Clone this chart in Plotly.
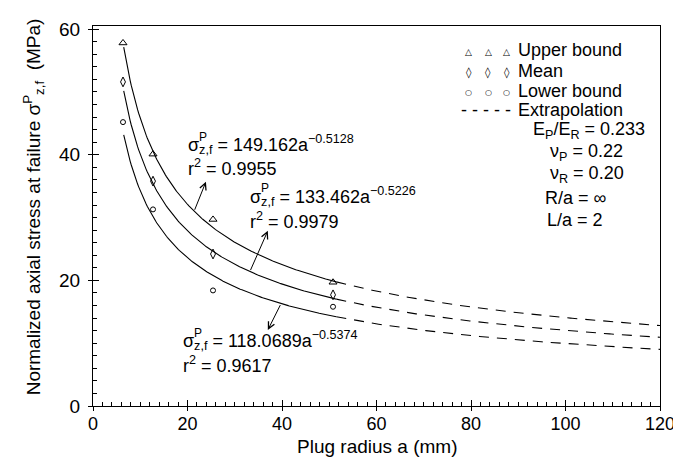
import numpy as np
import plotly.graph_objects as go

# ---- data ----
radius = [6.35, 12.7, 25.4, 50.8]                 # plug radius a (mm)
upper_vals = [57.8, 40.1, 29.7, 19.7]            # upper bound (MPa)
mean_vals = [51.6, 35.8, 24.2, 17.7]             # mean (MPa)
lower_vals = [45.2, 31.3, 18.4, 15.8]            # lower bound (MPa)

fit_names = ["Upper bound", "Mean", "Lower bound"]
fit_coef = ["149.162", "133.462", "118.0689"]
fit_expo = ["-0.5128", "-0.5226", "-0.5374"]
fit_r2 = ["0.9955", "0.9979", "0.9617"]

x_ticks = [0, 20, 40, 60, 80, 100, 120]
y_ticks = [0, 20, 40, 60]

FONT = "Liberation Sans, Arial, Helvetica, sans-serif"
BLACK = "black"


def fit(i, a):
    return float(fit_coef[i]) * np.power(a, float(fit_expo[i]))


fig = go.Figure()

# fitted curves (solid over the tested range, dashed extrapolation)
a_solid = np.linspace(6.5, 51.5, 200)
a_dash = np.linspace(51.5, 120, 200)
for i in range(3):
    fig.add_trace(go.Scatter(x=a_solid, y=fit(i, a_solid), mode="lines",
                             line=dict(color=BLACK, width=1.1), showlegend=False,
                             hoverinfo="skip"))
    fig.add_trace(go.Scatter(x=a_dash, y=fit(i, a_dash), mode="lines",
                             line=dict(color=BLACK, width=1.1, dash="10px,8px"),
                             showlegend=False, hoverinfo="skip"))

# measured points
fig.add_trace(go.Scatter(x=radius, y=upper_vals, mode="markers", name="Upper bound",
                         marker=dict(symbol="triangle-up-open", size=7, color=BLACK,
                                     line=dict(width=1)), showlegend=False))
fig.add_trace(go.Scatter(x=radius, y=mean_vals, mode="markers", name="Mean",
                         marker=dict(symbol="diamond-tall-open", size=7, color=BLACK,
                                     line=dict(width=1)), showlegend=False))
fig.add_trace(go.Scatter(x=radius, y=lower_vals, mode="markers", name="Lower bound",
                         marker=dict(symbol="circle-open", size=5, color=BLACK,
                                     line=dict(width=1)), showlegend=False))

# helper trace for the outer half of the major ticks
fig.add_trace(go.Scatter(x=[None], y=[None], xaxis="x2", yaxis="y2",
                         showlegend=False, hoverinfo="skip"))

XR = [0, 120]
YR = [0, 60.5]

fig.update_layout(
    width=681, height=459,
    margin=dict(l=85, r=29, t=18, b=61),
    paper_bgcolor="white", plot_bgcolor="white",
    font=dict(family=FONT, color=BLACK, size=18),
    showlegend=False,
    xaxis=dict(range=XR, tickvals=x_ticks, ticks="inside", ticklen=6, tickwidth=1,
               tickcolor=BLACK, showline=True, linecolor=BLACK, linewidth=1.2,
               mirror=True, showgrid=False, zeroline=False,
               tickfont=dict(size=18), ticklabelstandoff=1,
               minor=dict(dtick=2, ticks="inside", ticklen=4, tickcolor=BLACK,
                          tickwidth=1, showgrid=False)),
    yaxis=dict(range=YR, tickvals=y_ticks, ticks="inside", ticklen=6, tickwidth=1,
               tickcolor=BLACK, showline=True, linecolor=BLACK, linewidth=1.2,
               mirror=True, showgrid=False, zeroline=False,
               tickfont=dict(size=19), ticklabelstandoff=8,
               minor=dict(dtick=2, ticks="inside", ticklen=4, tickcolor=BLACK,
                          tickwidth=1, showgrid=False)),
    xaxis2=dict(range=XR, overlaying="x", anchor="y2", side="bottom",
                tickvals=x_ticks, ticks="outside", ticklen=4, tickcolor=BLACK,
                showticklabels=False, showline=False, showgrid=False, zeroline=False),
    yaxis2=dict(range=YR, overlaying="y", anchor="x2", side="left",
                tickvals=y_ticks, ticks="outside", ticklen=4, tickcolor=BLACK,
                showticklabels=False, showline=False, showgrid=False, zeroline=False),
)

# axis titles
fig.add_annotation(x=0.501, y=-0.107, xref="paper", yref="paper", xanchor="center",
                   yanchor="middle", showarrow=False, text="Plug radius a (mm)",
                   font=dict(size=19))
fig.add_annotation(x=-0.105, y=0.524, xref="paper", yref="paper", xanchor="center",
                   yanchor="middle", showarrow=False, textangle=-90,
                   text="Normalized axial stress at failure σ<sup>P</sup><sub>z,f</sub>  (MPa)",
                   font=dict(size=19))

# equation labels (P superscript stacked over the z,f subscript)
eq_pos = [(19.7, 41.6, 37.9), (32.8, 33.4, 29.6), (18.6, 10.4, 6.6)]
for i, (ex, ey1, ey2) in enumerate(eq_pos):
    fig.add_annotation(x=ex, y=ey1, xref="x", yref="y", xanchor="left", yanchor="middle",
                       showarrow=False, font=dict(size=18),
                       text=f"σ<sub>z,f</sub> = {fit_coef[i]}a<sup>{fit_expo[i].replace('-', '−')}</sup>")
    fig.add_annotation(x=ex, y=ey1, xref="x", yref="y", xanchor="left", yanchor="middle",
                       showarrow=False, font=dict(size=12), text="P",
                       xshift=11, yshift=8)
    fig.add_annotation(x=ex, y=ey2, xref="x", yref="y", xanchor="left", yanchor="middle",
                       showarrow=False, font=dict(size=18),
                       text=f"r<sup>2</sup> = {fit_r2[i]}")

# arrows from curves to labels
arrows = [(21.4, 23.9, 35.7), (33.2, 37.0, 27.9), (39.8, 37.0, 12.1)]
for i, (tx, hx, hy) in enumerate(arrows):
    fig.add_annotation(x=hx, y=hy, ax=tx, ay=float(fit(i, tx)), xref="x", yref="y",
                       axref="x", ayref="y", showarrow=True, arrowhead=5, arrowsize=1.3,
                       arrowwidth=1, arrowcolor=BLACK, text="")

# legend (drawn as text, with three symbols per entry)
leg_txt_x = 0.746
sym_x = [0.663, 0.697, 0.730]
leg_rows = [("△", "Upper bound", 9), ("◊", "Mean", 11), ("○", "Lower bound", 8)]
leg_y = [0.937, 0.882, 0.829, 0.779]
for (sym, lab, ss), yy in zip(leg_rows, leg_y):
    for sx in sym_x:
        fig.add_annotation(x=sx, y=yy, xref="paper", yref="paper", xanchor="center",
                           yanchor="middle", showarrow=False, yshift=-2,
                           text=sym, font=dict(size=ss, family="DejaVu Sans"))
    fig.add_annotation(x=leg_txt_x, y=yy, xref="paper", yref="paper",
                       xanchor="left", yanchor="middle", showarrow=False,
                       text=lab, font=dict(size=18))
fig.add_annotation(x=0.741, y=leg_y[3], xref="paper", yref="paper", xanchor="right",
                   yanchor="middle", showarrow=False, text="- - - - -",
                   font=dict(size=18))
fig.add_annotation(x=leg_txt_x, y=leg_y[3], xref="paper", yref="paper",
                   xanchor="left", yanchor="middle", showarrow=False,
                   text="Extrapolation", font=dict(size=18))

params = [("E<sub>P</sub>/E<sub>R</sub> = 0.233", 0.772, 0.726),
          ("ν<sub>P</sub> = 0.22", 0.802, 0.666),
          ("ν<sub>R</sub> = 0.20", 0.802, 0.608),
          ("R/a = ∞", 0.794, 0.547),
          ("L/a = 2", 0.797, 0.489)]
for txt, px, py in params:
    fig.add_annotation(x=px, y=py, xref="paper", yref="paper", xanchor="left",
                       yanchor="middle", showarrow=False, text=txt, font=dict(size=18))

fig.write_html("out.html")
